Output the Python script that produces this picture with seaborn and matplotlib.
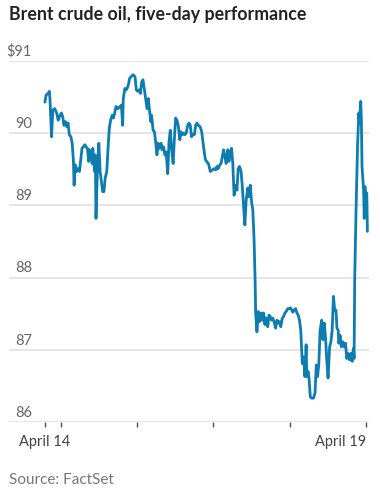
#!/usr/bin/env python3
"""Brent crude oil, five-day intraday price line."""

import matplotlib

matplotlib.use("Agg")
import matplotlib.pyplot as plt
import seaborn as sns

LINE_COLOR = "#0d7cb1"
GRID_COLOR = "#dedede"

# hours since April 14, 00:00
hours = [
    18.9, 19.3, 19.9, 20.3, 20.5, 21.0, 21.4, 22.0, 22.6, 23.1, 23.5,
    24.1, 24.5, 24.9, 25.4, 25.8, 26.2, 26.6, 27.1, 27.5, 27.9, 28.1, 28.5, 28.9, 29.4, 29.8,
    30.2, 30.6, 31.0, 31.5, 31.9, 32.3, 32.7, 32.9, 33.3, 33.8, 34.0, 34.4, 34.6, 34.8, 35.0,
    35.4, 35.9, 36.3, 36.7, 37.1, 37.5, 37.9, 38.4, 38.8, 39.2, 39.6, 40.1, 40.5, 40.9, 41.3,
    41.9, 42.6, 43.0, 43.4, 43.6, 44.1, 44.5, 44.8, 45.2, 45.6, 46.0, 46.7, 47.3, 47.7, 48.1,
    48.6, 49.0, 49.4, 49.8, 50.2, 50.7, 51.1, 51.5, 51.9, 52.3, 52.5, 53.0, 53.4, 53.8, 54.2,
    54.6, 55.1, 55.5, 55.9, 56.3, 56.7, 57.1, 57.6, 58.0, 58.4, 58.8, 59.3, 59.7, 60.1, 60.5,
    60.9, 61.4, 61.8, 62.2, 62.6, 63.0, 63.4, 63.9, 64.3, 64.7, 65.1, 65.5, 66.0, 66.4, 66.8,
    67.2, 67.8, 68.3, 68.7, 69.1, 69.5, 70.0, 70.4, 70.6, 71.0, 71.6, 72.3, 72.7, 73.1, 73.5,
    74.0, 74.4, 74.8, 75.2, 75.6, 76.0, 76.5, 76.9, 77.3, 77.7, 78.1, 78.5, 79.0, 79.4, 79.8,
    80.2, 80.7, 81.1, 81.5, 81.9, 82.3, 82.8, 83.2, 83.6, 84.0, 84.4, 84.8, 85.1, 85.3, 85.7,
    86.1, 86.5, 87.0, 87.4, 87.8, 88.2, 88.6, 89.1, 89.5, 89.9, 90.3, 90.7, 91.1, 91.6, 92.0,
    92.4, 92.8, 93.2, 93.7, 94.1, 94.5, 94.9, 95.4, 95.8, 96.2, 96.6, 97.0, 97.4, 97.9, 98.3,
    98.7, 99.1, 99.5, 100.0, 100.4, 100.8, 101.2, 101.4, 101.8, 102.1, 102.5, 102.9, 103.5, 104.0, 104.4,
    104.8, 105.2, 105.6, 106.1, 106.5, 106.9, 107.3, 107.7, 108.1, 108.6, 109.0, 109.4, 109.8, 110.2, 110.6,
    110.9, 111.3, 111.5, 111.9, 112.3, 112.8, 113.2, 113.6, 114.0, 114.4, 114.9, 115.3, 115.7, 116.1, 116.3,
    116.5, 116.9, 117.4, 117.8, 118.0, 118.4, 118.6, 118.8, 119.3, 119.5, 119.7, 120.1, 120.3, 120.5,
]

price = [
    90.43, 90.53, 90.55, 90.58, 90.48, 89.95, 90.32, 90.34, 90.28, 90.18, 90.23,
    90.28, 90.23, 90.11, 90.16, 90.09, 90.14, 89.98, 89.95, 89.86, 89.61, 89.28, 89.56, 89.47, 89.51, 89.47,
    89.63, 89.79, 89.81, 89.84, 89.81, 89.79, 89.61, 89.77, 89.74, 89.58, 89.79, 89.56, 89.47, 89.70, 88.82,
    89.42, 89.86, 89.47, 89.33, 89.19, 89.19, 89.38, 89.47, 89.79, 90.07, 90.18, 90.25, 90.21, 90.28, 90.37,
    90.34, 90.37, 90.39, 90.11, 90.48, 90.62, 90.60, 90.62, 90.67, 90.76, 90.78, 90.81, 90.78, 90.60, 90.58,
    90.60, 90.55, 90.71, 90.74, 90.62, 90.48, 90.34, 90.48, 90.30, 90.16, 90.25, 90.04, 90.02, 89.88, 89.70,
    89.86, 89.79, 89.86, 89.77, 89.81, 89.70, 89.74, 89.44, 89.88, 90.04, 89.79, 89.58, 89.93, 90.21, 90.18,
    90.11, 89.91, 90.02, 89.98, 90.00, 89.98, 90.00, 90.11, 90.14, 90.11, 89.95, 89.98, 89.98, 90.11, 90.14,
    90.11, 90.09, 90.02, 89.88, 89.74, 89.63, 89.60, 89.58, 89.55, 89.47, 89.49, 89.51, 89.49, 89.54, 89.51,
    89.56, 89.58, 89.68, 89.77, 89.68, 89.58, 89.77, 89.61, 89.74, 89.79, 89.58, 89.14, 89.28, 89.21, 89.51,
    89.54, 89.47, 89.26, 88.98, 88.73, 89.07, 89.24, 89.12, 89.28, 89.05, 88.94, 88.52, 88.01, 87.51, 87.25,
    87.53, 87.39, 87.51, 87.41, 87.51, 87.35, 87.44, 87.32, 87.48, 87.46, 87.41, 87.44, 87.39, 87.30, 87.41,
    87.37, 87.39, 87.32, 87.44, 87.46, 87.51, 87.53, 87.57, 87.57, 87.58, 87.56, 87.52, 87.55, 87.57, 87.51,
    87.48, 87.41, 87.27, 86.81, 86.90, 86.63, 87.07, 86.63, 86.70, 86.61, 86.35, 86.33, 86.33, 86.40, 86.79,
    86.63, 86.81, 87.27, 87.41, 87.14, 87.37, 87.18, 86.86, 86.61, 87.04, 87.11, 87.27, 87.74, 87.55, 87.55,
    87.30, 87.27, 87.09, 87.20, 87.04, 87.11, 87.04, 87.09, 86.88, 86.95, 86.86, 86.95, 86.84, 87.02, 86.88,
    87.97, 88.89, 89.84, 90.28, 90.14, 90.44, 90.18, 89.54, 89.21, 88.82, 89.26, 89.12, 89.17, 88.64,
]

y_ticks = [86, 87, 88, 89, 90, 91]
y_labels = ["86", "87", "88", "89", "90", "$91"]
x_ticks = [18.9, 24, 48, 72, 96, 120]
x_labels = ["April 14", "", "", "", "", "April 19"]

assert len(hours) == len(price)


def configure_style() -> None:
    sns.set_theme(style="white", rc={"figure.facecolor": "white", "axes.facecolor": "white"})
    plt.rcParams["font.family"] = ["Lato", "DejaVu Sans"]


def main() -> None:
    configure_style()
    fig = plt.figure(figsize=(3.8, 4.88), dpi=100)
    ax = fig.add_axes([9 / 380, 1 - 422 / 488, 360 / 380, 361 / 488])

    for v in y_ticks:
        ax.axhline(v, color=GRID_COLOR, linewidth=1.1, zorder=0)

    sns.lineplot(x=hours, y=price, color=LINE_COLOR, linewidth=2.0,
                 estimator=None, sort=False, ax=ax)

    ax.set_ylim(86, 91)
    ax.set_xlim(7.6, 121.0)
    sns.despine(ax=ax, left=True, bottom=True, top=True, right=True)

    ax.set_yticks([])
    for v, lab in zip(y_ticks, y_labels):
        ax.text(0.064, v + 0.03, lab, transform=ax.get_yaxis_transform(),
                ha="right", va="bottom", fontsize=10.5, color="#666666")

    ax.set_xticks(x_ticks)
    ax.set_xticklabels(x_labels, fontsize=10.5, color="#444444")
    ax.tick_params(axis="x", length=3.5, width=1.0, color="#555555", pad=6, bottom=True)
    ax.get_xticklabels()[-1].set_ha("right")
    ax.get_xticklabels()[-1].set_position((120.9, 0))
    ax.set_xlabel("")
    ax.set_ylabel("")

    fig.text(9 / 380, 1 - 6 / 488, "Brent crude oil, five-day performance",
             ha="left", va="top", fontsize=12.8, fontweight="bold", color="#222222")
    fig.text(9 / 380, 1 - 487 / 488, "Source: FactSet",
             ha="left", va="bottom", fontsize=11, color="#777777")

    fig.savefig("out.png", dpi=100, facecolor="white")
    plt.close(fig)


if __name__ == "__main__":
    main()
